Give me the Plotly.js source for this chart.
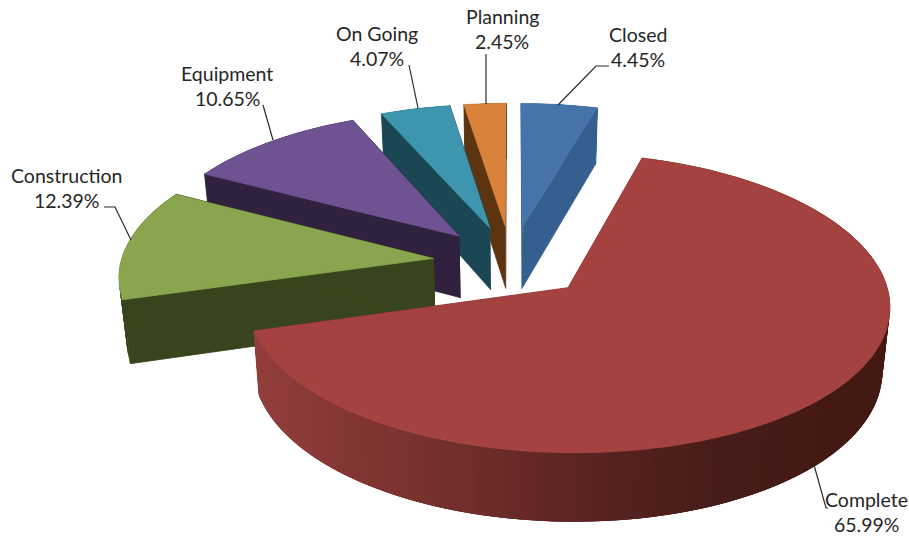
<!DOCTYPE html>
<html>
<head>
<meta charset="utf-8">
<script src="https://cdn.plot.ly/plotly-3.0.1.min.js"></script>
<style>html,body{margin:0;padding:0;background:#fff}#chart{width:909px;height:536px}</style>
</head>
<body>
<div id="chart"></div>
<script>
// Project status shares, clockwise from twelve o'clock
const categories = ['Closed', 'Complete', 'Construction', 'Equipment', 'On Going', 'Planning'];
const shares = [4.45, 65.99, 12.39, 10.65, 4.07, 2.45];
const topColors = ['#4674a9', '#a4423f', '#89a54e', '#6f5291', '#3d96ae', '#d9823b'];
const wallColors = ['#345f8e', '#7c3230', '#38451c', '#30223f', '#1b4653', '#5c3410'];
const paintOrder = [0, 5, 4, 3, 2, 1];

// Rim shading of the large slice, from its left end to its right end
const rimShades = [[146, 62, 60], [128, 52, 50], [108, 44, 42], [88, 34, 32], [72, 28, 24], [68, 25, 20]];

// Label anchors and leader lines, in page pixels
const labelCentres = [[638, 34], [866, 499], [66, 175], [227, 73], [377, 33], [502, 16]];
const leaders = [
  [[558, 105], [596, 66], [609, 66]],
  [[814, 465], [826, 508], [828, 508]],
  [[131, 240], [115, 207], [104, 207]],
  [[273, 140], [263, 105]],
  [[418, 108], [409, 65]],
  [[486, 104], [486, 54]]
];

// Perspective view of the pie plane
const view = {cx: 511.5, cy: 262, rx: 313, ry: 143, kx: 0.109, ky: 0.1007, depth: 62.5, depthGrowth: 5.5, shrink: 0.02, explode: 0.25};

function project(u, v, h) {
  const s = 1 - view.shrink * h;
  return [view.cx + view.rx * u / (1 - view.kx * v) * s,
          view.cy + view.ry * v / (1 - view.ky * v) + (view.depth + view.depthGrowth * v) * h];
}
function polar(a, r) { return [r * Math.sin(a), -r * Math.cos(a)]; }

const total = shares.reduce((s, x) => s + x, 0);
const wedges = [];
let running = 0;
shares.forEach((share) => {
  const a0 = running / total * 2 * Math.PI;
  running += share;
  const a1 = running / total * 2 * Math.PI;
  const off = polar((a0 + a1) / 2, view.explode);
  wedges.push({a0, a1, off});
});

function rimPoint(wedge, a, h) {
  const p = polar(a, 1);
  return project(wedge.off[0] + p[0], wedge.off[1] + p[1], h);
}
function apexPoint(wedge, h) { return project(wedge.off[0], wedge.off[1], h); }

const traces = [];
function addPoly(points, color, lineWidth) {
  traces.push({
    type: 'scatter', mode: 'lines', fill: 'toself', fillcolor: color,
    x: points.map(p => p[0]), y: points.map(p => p[1]),
    line: {color: color, width: lineWidth}, hoverinfo: 'skip', showlegend: false
  });
}
function shade(t) {
  const f = Math.max(0, Math.min(0.9999, t)) * (rimShades.length - 1);
  const i = Math.floor(f), g = f - i;
  const c = rimShades[i].map((x, n) => Math.round(x + (rimShades[i + 1][n] - x) * g));
  return 'rgb(' + c.join(',') + ')';
}

paintOrder.forEach((idx) => {
  const wedge = wedges[idx];
  const wall = wallColors[idx];
  const span = wedge.a1 - wedge.a0;
  const steps = Math.max(6, Math.round(span * 40));
  const angle = (i) => wedge.a0 + span * Math.min(i, steps) / steps;
  // radial walls; those facing away end up under the top face
  [wedge.a0, wedge.a1].forEach((a) => {
    addPoly([apexPoint(wedge, 0), rimPoint(wedge, a, 0), rimPoint(wedge, a, 1), apexPoint(wedge, 1)], wall, 0.8);
  });
  // outer wall in overlapping strips, so no seams show between neighbours
  const xLeft = rimPoint(wedge, wedge.a1, 0)[0];
  const xRight = Math.max(...Array.from({length: steps + 1}, (_, i) => rimPoint(wedge, angle(i), 0)[0]));
  for (let i = 0; i < steps; i++) {
    const upper = [], lower = [];
    for (let j = i; j <= i + 3; j++) {
      upper.push(rimPoint(wedge, angle(j), 0));
      lower.unshift(rimPoint(wedge, angle(j), 1));
    }
    const xMid = (upper[0][0] + upper[1][0]) / 2;
    const color = idx === 1 ? shade((xMid - xLeft) / (xRight - xLeft) * 1.1) : wall;
    addPoly(upper.concat(lower), color, 0);
  }
  // top face
  const top = [apexPoint(wedge, 0)];
  for (let i = 0; i <= steps * 2; i++) {
    top.push(rimPoint(wedge, wedge.a0 + span * i / (steps * 2), 0));
  }
  addPoly(top, topColors[idx], 0.8);
});

leaders.forEach((path) => {
  traces.push({
    type: 'scatter', mode: 'lines',
    x: path.map(p => p[0]), y: path.map(p => p[1]),
    line: {color: '#2b2b2b', width: 1.2}, hoverinfo: 'skip', showlegend: false
  });
});

const labelFont = {family: 'Lato, Carlito, sans-serif', size: 19.5, color: '#262626'};
const annotations = [];
categories.forEach((name, i) => {
  const c = labelCentres[i];
  annotations.push({x: c[0], y: c[1], text: name, showarrow: false, xanchor: 'center', yanchor: 'middle', font: labelFont});
  annotations.push({x: c[0], y: c[1] + 25, text: shares[i].toFixed(2) + '%', showarrow: false, xanchor: 'center', yanchor: 'middle', font: labelFont});
});

Plotly.newPlot('chart', traces, {
  width: 909, height: 536,
  margin: {l: 0, r: 0, t: 0, b: 0},
  paper_bgcolor: '#ffffff', plot_bgcolor: '#ffffff',
  showlegend: false,
  xaxis: {range: [0, 909], visible: false, fixedrange: true},
  yaxis: {range: [536, 0], visible: false, fixedrange: true},
  annotations: annotations
}, {displayModeBar: false, staticPlot: true});
</script>
</body>
</html>
